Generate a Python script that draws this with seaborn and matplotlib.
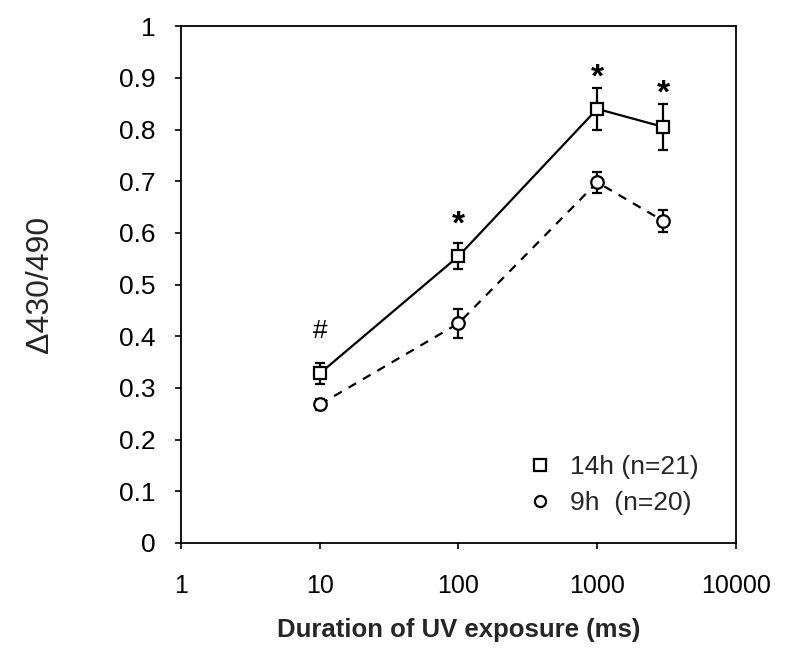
import matplotlib
matplotlib.use("Agg")
import matplotlib.pyplot as plt
from matplotlib.lines import Line2D
import seaborn as sns
import pandas as pd
import numpy as np

# Data
durations = [10, 100, 1000, 3000]
mean_14h = [0.328, 0.555, 0.840, 0.805]
err_14h = [0.020, 0.025, 0.040, 0.045]
mean_9h = [0.268, 0.425, 0.698, 0.623]
err_9h = [0.010, 0.028, 0.020, 0.022]
labels = ["14h (n=21)", "9h  (n=20)"]
annot_text = ["#", "*", "*", "*"]
annot_y = [0.41, 0.615, 0.90, 0.868]
xticks = [1, 10, 100, 1000, 10000]
yticks = [0, 0.1, 0.2, 0.3, 0.4, 0.5, 0.6, 0.7, 0.8, 0.9, 1]

sns.set_theme(style="white")
plt.rcParams['font.family'] = ['Liberation Sans', 'DejaVu Sans']

df = pd.DataFrame({
    "x": durations * 2,
    "y": mean_14h + mean_9h,
    "group": [labels[0]] * 4 + [labels[1]] * 4,
})

fig = plt.figure(figsize=(7.89, 6.55), dpi=100)
ax = fig.add_axes([0.2294, 0.171, 0.7034, 0.789])

# error bars
ax.errorbar(durations, mean_14h, yerr=err_14h, fmt="none", ecolor="black",
            elinewidth=1.6, capsize=3.5, capthick=1.6, zorder=2)
ax.errorbar(durations, mean_9h, yerr=err_9h, fmt="none", ecolor="black",
            elinewidth=1.6, capsize=3.5, capthick=1.6, zorder=2)

sns.lineplot(data=df, x="x", y="y", style="group", hue="group",
             palette=["black", "black"], markers=["s", "o"],
             dashes=[(None, None), (4, 3.5)], markersize=9,
             markerfacecolor="white", markeredgecolor="black",
             markeredgewidth=1.6, linewidth=1.6, ax=ax, legend=False,
             zorder=3)

for xv, txt, yv in zip(durations, annot_text, annot_y):
    if txt == "*":
        ax.text(xv, yv, txt, ha="center", va="center", fontsize=24,
                fontweight="bold", color="black")
    else:
        ax.text(xv, yv, txt, ha="center", va="center", fontsize=19,
                color="black")

ax.set_xscale("log")
ax.set_xlim(1, 10000)
ax.set_ylim(0, 1)
ax.set_xticks(xticks)
ax.set_xticklabels([str(t) for t in xticks])
ax.minorticks_off()
ax.set_yticks(yticks)
ax.set_yticklabels([("%g" % t) for t in yticks])
ax.tick_params(axis="both", colors="black", direction="out",
               length=4, width=1.2, left=True, bottom=True)
ax.tick_params(axis="x", pad=18.5, labelsize=18)
ax.tick_params(axis="y", pad=14, labelsize=19)

for s in ax.spines.values():
    s.set_visible(True)
    s.set_color("black")
    s.set_linewidth(1.3)

ax.set_xlabel("Duration of UV exposure (ms)", fontsize=18.5, fontweight="bold",
              labelpad=14)
ax.set_ylabel("\u0394430/490", fontsize=23, labelpad=46)

handles = [
    Line2D([], [], marker="s", linestyle="none", markerfacecolor="white",
           markeredgecolor="black", markeredgewidth=1.6, markersize=8),
    Line2D([], [], marker="o", linestyle="none", markerfacecolor="white",
           markeredgecolor="black", markeredgewidth=1.6, markersize=8),
]
ax.legend(handles, labels, loc="lower left", bbox_to_anchor=(0.623, 0.054),
          frameon=False, fontsize=19, handletextpad=0.64, labelspacing=0.44,
          handlelength=1.0, borderpad=0, borderaxespad=0)

fig.savefig("out.png", dpi=100)
